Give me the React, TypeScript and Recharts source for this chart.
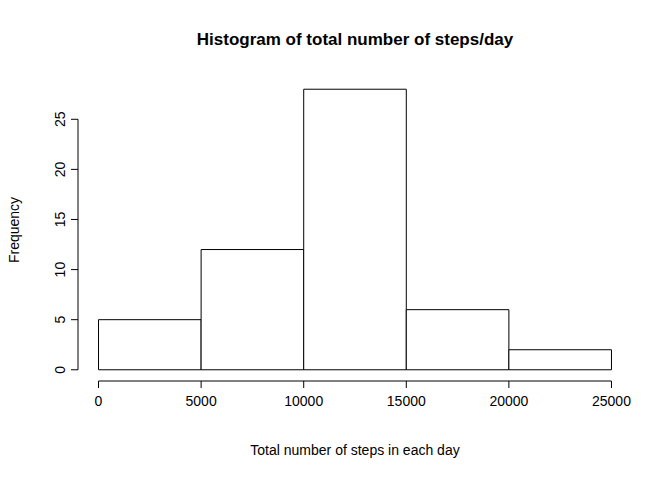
import React from "react";
import { ComposedChart, XAxis, YAxis, ReferenceArea, ReferenceLine, Line } from "recharts";

const binStarts = [0, 5000, 10000, 15000, 20000];
const binEnds = [5000, 10000, 15000, 20000, 25000];
const counts = [5, 12, 28, 6, 2];
const xTicks = [0, 5000, 10000, 15000, 20000, 25000];
const yTicks = [0, 5, 10, 15, 20, 25];

const data = counts.map((c, i) => ({ mid: (binStarts[i] + binEnds[i]) / 2, count: c }));
const font = "'Liberation Sans', Arial, sans-serif";

function YTick(props: any) {
  const { x, y, payload } = props;
  return (
    <text x={x - 4} y={y} transform={`rotate(-90 ${x - 4} ${y})`} textAnchor="middle" fontSize={14} fontFamily={font} fill="#000">
      {payload.value}
    </text>
  );
}

function XTick(props: any) {
  const { x, y, payload } = props;
  return (
    <text x={x} y={y + 16} textAnchor="middle" fontSize={14} fontFamily={font} fill="#000">
      {payload.value}
    </text>
  );
}

export default function App() {
  return (
    <div style={{ position: "absolute", left: 0, top: 0, width: 672, height: 480, background: "#fff", fontFamily: font }}>
      <div style={{ position: "absolute", top: 30, left: 0, width: 710, textAlign: "center", fontWeight: "bold", fontSize: 17 }}>
        Histogram of total number of steps/day
      </div>
      <div style={{ position: "absolute", top: 442, left: 0, width: 710, textAlign: "center", fontSize: 14 }}>
        Total number of steps in each day
      </div>
      <div style={{ position: "absolute", left: 14, top: 230, transform: "translate(-50%,-50%) rotate(-90deg)", fontSize: 14, whiteSpace: "nowrap" }}>
        Frequency
      </div>
      <ComposedChart width={672} height={480} data={data} margin={{ left: 38, right: 40, top: 78, bottom: 59 }}>
        <XAxis dataKey="mid" type="number" domain={[-1000, 26000]} ticks={xTicks} axisLine={false} height={40}
          tickSize={7} tick={<XTick />} tickLine={{ stroke: "#000" }} interval={0} />
        <YAxis type="number" domain={[-1.12, 29.12]} ticks={yTicks} axisLine={false} width={40}
          tickSize={7} tick={<YTick />} tickLine={{ stroke: "#000" }} interval={0} />
        {counts.map((c, i) => (
          <ReferenceArea key={i} x1={binStarts[i]} x2={binEnds[i]} y1={0} y2={c} fill="#fff" fillOpacity={1} stroke="#000" strokeOpacity={1} ifOverflow="visible" />
        ))}
        <ReferenceLine segment={[{ x: 0, y: -1.12 }, { x: 25000, y: -1.12 }]} stroke="#000" ifOverflow="visible" />
        <ReferenceLine segment={[{ x: -1000, y: 0 }, { x: -1000, y: 25 }]} stroke="#000" ifOverflow="visible" />
        <Line dataKey="count" stroke="none" dot={false} activeDot={false} isAnimationActive={false} />
      </ComposedChart>
    </div>
  );
}
